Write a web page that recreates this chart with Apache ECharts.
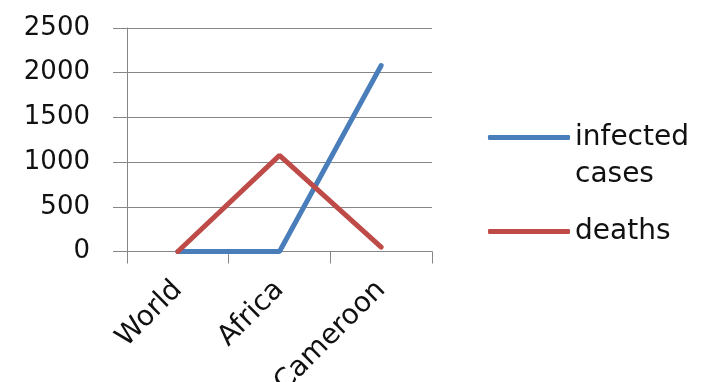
<!DOCTYPE html>
<html>
<head>
<meta charset="utf-8">
<script src="https://cdn.jsdelivr.net/npm/echarts@6/dist/echarts.min.js"></script>
<style>
html,body{margin:0;padding:0;background:#fff;}
#chart{width:708px;height:382px;}
</style>
</head>
<body>
<div id="chart"></div>
<script>
const categories = ['World', 'Africa', 'Cameroon'];
const infectedCases = [0, 0, 2080];
const deaths = [0, 1075, 50];
const yTicks = [0, 500, 1000, 1500, 2000, 2500];

const FONT = 'DejaVu Sans';
const chart = echarts.init(document.getElementById('chart'), null, {renderer: 'canvas'});
chart.setOption({
  animation: false,
  backgroundColor: '#ffffff',
  grid: {left: 127, right: 276, top: 28, bottom: 130.5, containLabel: false, outerBoundsMode: 'none'},
  xAxis: {
    type: 'category',
    data: categories,
    boundaryGap: true,
    axisLine: {show: true, lineStyle: {color: '#868686', width: 1}},
    axisTick: {show: true, length: 12, alignWithLabel: false, lineStyle: {color: '#868686'}},
    axisLabel: {rotate: 45, margin: 34, color: '#111', fontFamily: FONT, fontSize: 28, interval: 0}
  },
  yAxis: {
    type: 'value',
    min: yTicks[0],
    max: yTicks[yTicks.length - 1],
    interval: 500,
    axisLine: {show: true, lineStyle: {color: '#868686', width: 1}},
    axisTick: {show: true, length: 14, lineStyle: {color: '#868686'}},
    splitLine: {show: true, lineStyle: {color: '#868686', width: 1}},
    axisLabel: {margin: 37, color: '#111', fontFamily: FONT, fontSize: 26, formatter: function (v) { return String(v); }}
  },
  legend: {
    orient: 'vertical',
    left: 488,
    top: 82,
    padding: 0,
    itemWidth: 82,
    itemHeight: 5,
    itemGap: 20,
    icon: 'roundRect',
    formatter: function (name) { return name === 'infected cases' ? '\ninfected\ncases' : name; },
    textStyle: {color: '#111', fontFamily: FONT, fontSize: 28, lineHeight: 37},
    data: ['infected cases', 'deaths']
  },
  series: [
    {
      name: 'infected cases',
      type: 'line',
      data: infectedCases,
      symbol: 'none',
      lineStyle: {color: '#4A7EBB', width: 5, cap: 'round'},
      itemStyle: {color: '#4A7EBB'}
    },
    {
      name: 'deaths',
      type: 'line',
      data: deaths,
      symbol: 'none',
      lineStyle: {color: '#BE4B48', width: 5, cap: 'round'},
      itemStyle: {color: '#BE4B48'}
    }
  ]
});
</script>
</body>
</html>
